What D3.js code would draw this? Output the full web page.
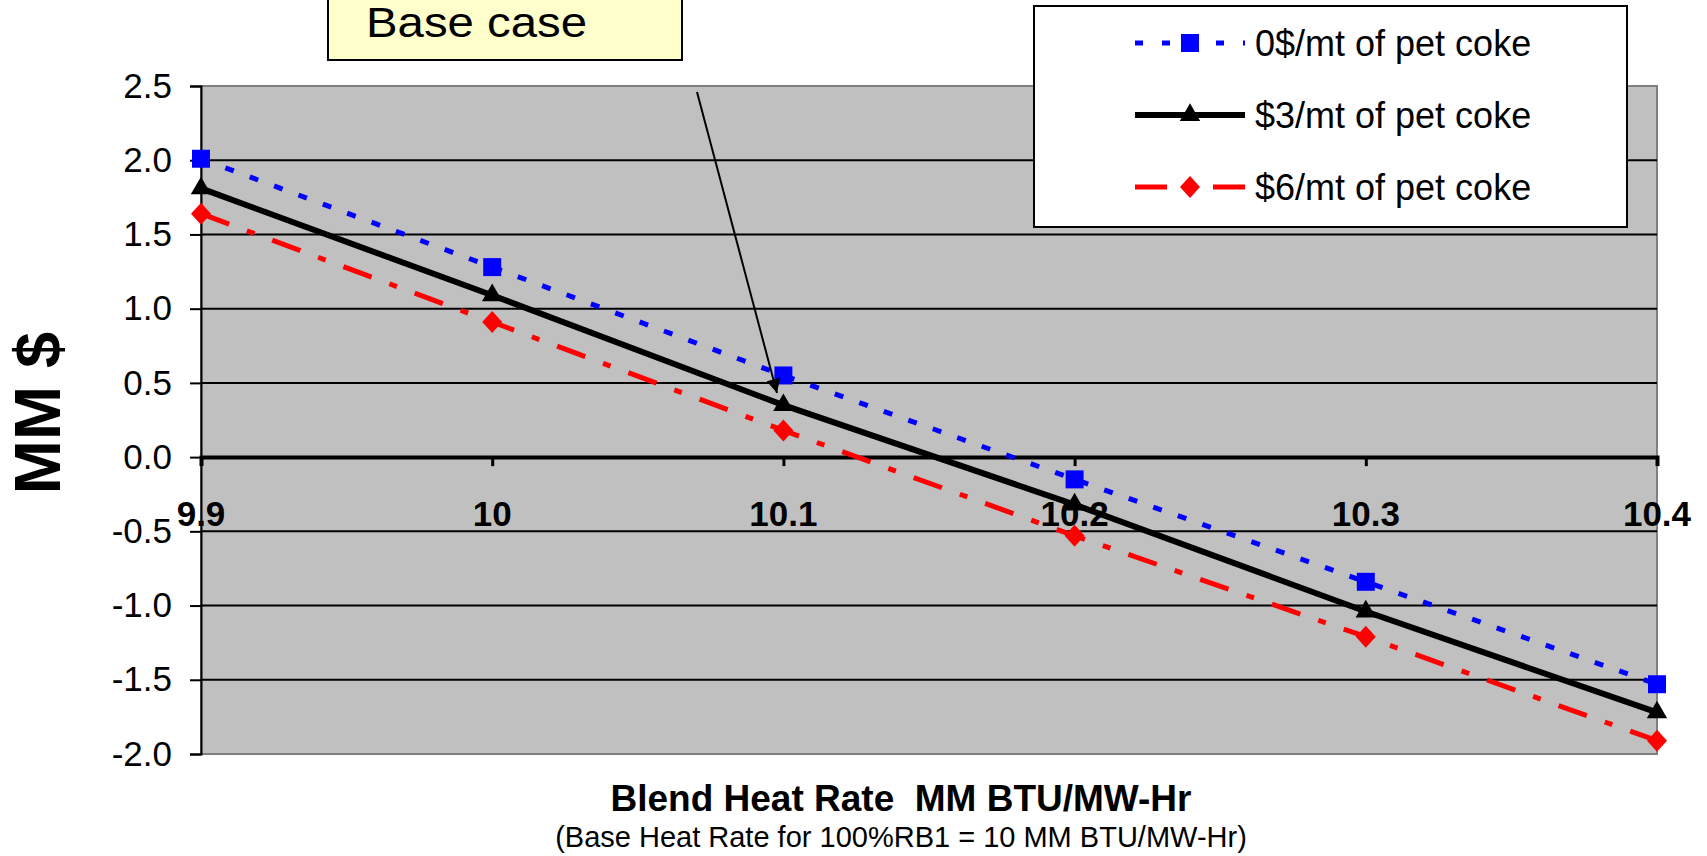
<!DOCTYPE html>
<html>
<head>
<meta charset="utf-8">
<script src="https://cdn.jsdelivr.net/npm/d3@7"></script>
<style>
  html, body { margin: 0; padding: 0; background: #fff; }
  svg { display: block; font-family: "Liberation Sans", Arial, sans-serif; }
</style>
</head>
<body>
<div id="chart"></div>
<script>
// --- Data ---
const heatRates = ['9.9', '10', '10.1', '10.2', '10.3', '10.4'];
const coke0 = [2.01, 1.28, 0.55, -0.15, -0.84, -1.53];
const coke3 = [1.81, 1.09, 0.35, -0.32, -1.04, -1.72];
const coke6 = [1.64, 0.91, 0.18, -0.53, -1.21, -1.91];
const yTicks = [2.5, 2.0, 1.5, 1.0, 0.5, 0.0, -0.5, -1.0, -1.5, -2.0];

const seriesNames = ['0$/mt of pet coke', '$3/mt of pet coke', '$6/mt of pet coke'];

const W = 1707, H = 856;
const plot = { left: 201, right: 1657, top: 86, bottom: 754 };

const svg = d3.select('#chart').append('svg')
    .attr('width', W)
    .attr('height', H);

// --- Scales ---
const x = d3.scalePoint()
    .domain(heatRates)
    .range([plot.left, plot.right]);

const y = d3.scaleLinear()
    .domain([-2, 2.5])
    .range([plot.bottom, plot.top]);

// --- Plot background ---
svg.append('rect')
    .attr('x', plot.left).attr('y', plot.top)
    .attr('width', plot.right - plot.left)
    .attr('height', plot.bottom - plot.top)
    .attr('fill', '#c0c0c0')
    .attr('stroke', '#808080')
    .attr('stroke-width', 2);

// gridlines
svg.append('g')
    .selectAll('line')
    .data(yTicks.filter(d => d !== 0 && d !== 2.5 && d !== -2))
    .enter().append('line')
    .attr('x1', plot.left).attr('x2', plot.right)
    .attr('y1', d => y(d)).attr('y2', d => y(d))
    .attr('stroke', '#000')
    .attr('stroke-width', 2);

// --- Y axis ---
const fmt = d => d3.format('.1f')(d).replace('\u2212', '-');
const yAxis = svg.append('g')
    .attr('transform', `translate(${plot.left},0)`)
    .call(d3.axisLeft(y).tickValues(yTicks).tickSize(11).tickPadding(18).tickFormat(fmt));
yAxis.select('.domain').attr('stroke', '#000').attr('stroke-width', 2);
yAxis.selectAll('.tick line').attr('stroke', '#000').attr('stroke-width', 2);
yAxis.selectAll('text')
    .attr('font-size', 35)
    .attr('font-family', '"Liberation Sans", Arial, sans-serif')
    .attr('fill', '#000');

// --- X axis on zero line ---
const xAxis = svg.append('g')
    .attr('transform', `translate(0,${y(0)})`)
    .call(d3.axisBottom(x).tickSize(9).tickPadding(0).tickFormat(''));
xAxis.select('.domain').attr('stroke', '#000').attr('stroke-width', 4);
xAxis.selectAll('.tick line').attr('stroke', '#000').attr('stroke-width', 3);

svg.append('g')
    .selectAll('text')
    .data(heatRates)
    .enter().append('text')
    .attr('x', d => x(d))
    .attr('y', 526)
    .attr('text-anchor', 'middle')
    .attr('font-size', 35)
    .attr('font-weight', 'bold')
    .text(d => d);

// --- Series ---
const diamond = {
    draw(ctx, size) {
        const r = Math.sqrt(size) / 2;
        ctx.moveTo(0, -r * 1.1);
        ctx.lineTo(r, 0);
        ctx.lineTo(0, r * 1.1);
        ctx.lineTo(-r, 0);
        ctx.closePath();
    }
};

const styles = [
    { values: coke0, color: '#0000ff', width: 5, dash: '9,17', marker: d3.symbolSquare, size: 324 },
    { values: coke3, color: '#000000', width: 6, dash: null, marker: d3.symbolTriangle, size: 180 },
    { values: coke6, color: '#ff0000', width: 5, dash: '30,19,8,19', marker: diamond, size: 400 }
];

const line = d3.line()
    .x(d => x(d.cat))
    .y(d => y(d.val));

styles.forEach(s => {
    const pts = heatRates.map((c, i) => ({ cat: c, val: s.values[i] }));
    svg.append('path')
        .datum(pts)
        .attr('d', line)
        .attr('fill', 'none')
        .attr('stroke', s.color)
        .attr('stroke-width', s.width)
        .attr('stroke-dasharray', s.dash);
    svg.append('g')
        .selectAll('path')
        .data(pts)
        .enter().append('path')
        .attr('transform', d => `translate(${x(d.cat)},${y(d.val)})`)
        .attr('d', d3.symbol().type(s.marker).size(s.size))
        .attr('fill', s.color);
});

// --- Base case annotation ---
svg.append('rect')
    .attr('x', 328).attr('y', -10)
    .attr('width', 354).attr('height', 70)
    .attr('fill', '#ffffcc')
    .attr('stroke', '#000')
    .attr('stroke-width', 2);

svg.append('text')
    .attr('x', 366).attr('y', 37)
    .attr('font-size', 42)
    .attr('textLength', 221)
    .attr('lengthAdjust', 'spacingAndGlyphs')
    .text('Base case');

svg.append('defs').append('marker')
    .attr('id', 'arrowhead')
    .attr('viewBox', '0 0 10 10')
    .attr('refX', 10).attr('refY', 5)
    .attr('markerWidth', 16).attr('markerHeight', 14)
    .attr('markerUnits', 'userSpaceOnUse')
    .attr('orient', 'auto')
    .append('path')
    .attr('d', 'M0,0 L10,5 L0,10 Z')
    .attr('fill', '#000');

svg.append('line')
    .attr('x1', 697).attr('y1', 92)
    .attr('x2', 777).attr('y2', 393)
    .attr('stroke', '#000')
    .attr('stroke-width', 2)
    .attr('marker-end', 'url(#arrowhead)');

// --- Legend ---
const legend = svg.append('g');
legend.append('rect')
    .attr('x', 1034).attr('y', 6)
    .attr('width', 593).attr('height', 221)
    .attr('fill', '#fff')
    .attr('stroke', '#000')
    .attr('stroke-width', 2);

const rowY = [43, 115, 187];
styles.forEach((s, i) => {
    legend.append('line')
        .attr('x1', 1135).attr('x2', 1245)
        .attr('y1', rowY[i]).attr('y2', rowY[i])
        .attr('stroke', s.color)
        .attr('stroke-width', s.width)
        .attr('stroke-dasharray', i === 2 ? '32,46,32' : (i === 0 ? '8,19' : null));
    legend.append('path')
        .attr('transform', `translate(1190,${rowY[i]})`)
        .attr('d', d3.symbol().type(s.marker).size(s.size))
        .attr('fill', s.color);
    legend.append('text')
        .attr('x', 1255).attr('y', rowY[i] + 13)
        .attr('font-size', 36)
        .text(seriesNames[i]);
});

// --- Axis titles ---
svg.append('text')
    .attr('transform', 'translate(60,413) rotate(-90)')
    .attr('text-anchor', 'middle')
    .attr('font-size', 65)
    .attr('font-weight', 'bold')
    .text('MM $');

svg.append('text')
    .attr('x', 901).attr('y', 811)
    .attr('text-anchor', 'middle')
    .attr('font-size', 37)
    .attr('font-weight', 'bold')
    .style('white-space', 'pre')
    .text('Blend Heat Rate  MM BTU/MW-Hr');

svg.append('text')
    .attr('x', 901).attr('y', 847)
    .attr('text-anchor', 'middle')
    .attr('font-size', 29)
    .text('(Base Heat Rate for 100%RB1 = 10 MM BTU/MW-Hr)');
</script>
</body>
</html>
